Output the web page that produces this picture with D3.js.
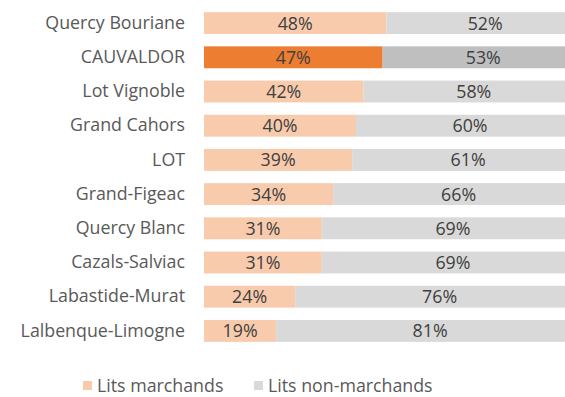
<!DOCTYPE html>
<html>
<head>
<meta charset="utf-8">
<script src="https://cdn.jsdelivr.net/npm/d3@7"></script>
<style>
  html, body { margin: 0; padding: 0; background: #fff; overflow: hidden; }
  svg { display: block; font-family: "Open Sans", sans-serif; }
</style>
</head>
<body>
<svg id="chart" width="565" height="397"></svg>
<script>
// Share of tourist beds by territory
const territories = ["Quercy Bouriane", "CAUVALDOR", "Lot Vignoble", "Grand Cahors", "LOT",
  "Grand-Figeac", "Quercy Blanc", "Cazals-Salviac", "Labastide-Murat", "Lalbenque-Limogne"];
const marchands = [48, 47, 42, 40, 39, 34, 31, 31, 24, 19];
const nonMarchands = [52, 53, 58, 60, 61, 66, 69, 69, 76, 81];
const highlighted = "CAUVALDOR";
const seriesNames = ["Lits marchands", "Lits non-marchands"];

const colors = {
  marchands: "#F8CBAD", marchandsHi: "#ED7D31",
  non: "#D9D9D9", nonHi: "#BFBFBF"
};
const fontSize = 17.8;

const svg = d3.select("#chart");
const x = d3.scaleLinear().domain([0, 100]).range([204, 584]);
const y = d3.scaleBand().domain(territories).range([6, 348]).paddingInner(0.36).paddingOuter(0.18);

const rows = territories.map((t, i) => ({ t, m: marchands[i], n: nonMarchands[i] }));

const g = svg.append("g");
const row = g.selectAll("g.row").data(rows).join("g").attr("class", "row");

row.append("rect")
  .attr("x", x(0))
  .attr("y", d => y(d.t))
  .attr("width", d => x(d.m) - x(0))
  .attr("height", y.bandwidth())
  .attr("fill", d => d.t === highlighted ? colors.marchandsHi : colors.marchands);

row.append("rect")
  .attr("x", d => x(d.m))
  .attr("y", d => y(d.t))
  .attr("width", d => x(d.m + d.n) - x(d.m))
  .attr("height", y.bandwidth())
  .attr("fill", d => d.t === highlighted ? colors.nonHi : colors.non);

row.append("text")
  .attr("x", d => (x(0) + x(d.m)) / 2)
  .attr("y", d => y(d.t) + y.bandwidth() / 2)
  .attr("dy", "0.36em")
  .attr("text-anchor", "middle")
  .attr("font-size", fontSize)
  .attr("fill", "#404040")
  .text(d => d.m + "%");

row.append("text")
  .attr("x", d => (x(d.m) + x(d.m + d.n)) / 2)
  .attr("y", d => y(d.t) + y.bandwidth() / 2)
  .attr("dy", "0.36em")
  .attr("text-anchor", "middle")
  .attr("font-size", fontSize)
  .attr("fill", "#404040")
  .text(d => d.n + "%");

// Category axis
const yAxis = d3.axisLeft(y).tickSize(0).tickPadding(0);
const ax = svg.append("g").attr("transform", "translate(185,0)").call(yAxis);
ax.select(".domain").remove();
ax.selectAll("text").attr("font-size", fontSize).attr("fill", "#595959")
  .attr("font-family", "'Open Sans', sans-serif");

// Legend
const legend = svg.append("g");
const legendItems = [
  { name: seriesNames[0], color: colors.marchands, x: 83 },
  { name: seriesNames[1], color: colors.non, x: 254 }
];
const li = legend.selectAll("g").data(legendItems).join("g")
  .attr("transform", d => `translate(${d.x},381)`);
li.append("rect").attr("width", 9).attr("height", 9).attr("fill", d => d.color);
li.append("text").attr("x", 14).attr("y", 4.5).attr("dy", "0.36em")
  .attr("font-size", fontSize).attr("fill", "#595959").text(d => d.name);
</script>
</body>
</html>
